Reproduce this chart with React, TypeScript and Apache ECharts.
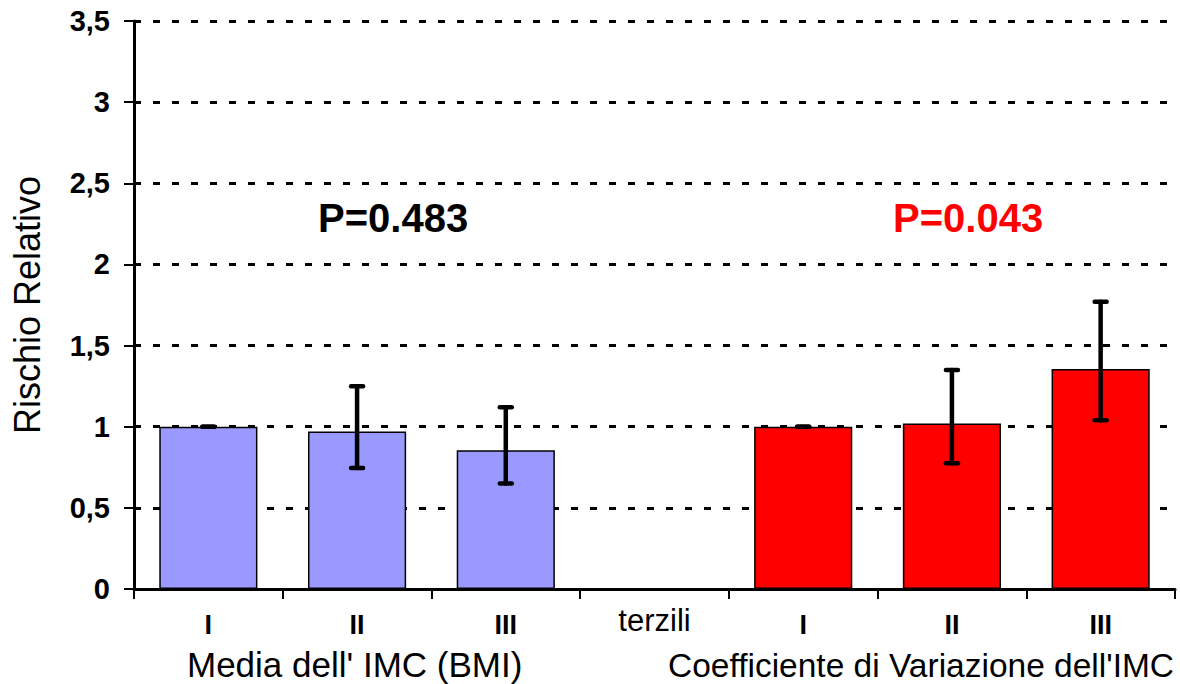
import React, { useEffect, useRef } from "react";
import * as echarts from "echarts";

const categories = ["I", "II", "III", "terzili", "I", "II", "III"];
const rrValues: (number | null)[] = [1.0, 0.97, 0.855, null, 1.0, 1.02, 1.355];
const ciLow: (number | null)[] = [1.0, 0.745, 0.65, null, 1.0, 0.775, 1.04];
const ciHigh: (number | null)[] = [1.0, 1.25, 1.12, null, 1.0, 1.35, 1.77];
const barColors = ["#9999FF", "#9999FF", "#9999FF", "#FFFFFF", "#FF0000", "#FF0000", "#FF0000"];
const yTicks = [0, 0.5, 1, 1.5, 2, 2.5, 3, 3.5];
const groupTitles = ["Media dell' IMC (BMI)", "Coefficiente di Variazione dell'IMC"];
const pValues = ["P=0.483", "P=0.043"];
const pColors = ["#000000", "#FF0000"];

const FONT = "Arial, 'Liberation Sans', Helvetica, sans-serif";

export default function App() {
  const ref = useRef<HTMLDivElement>(null);
  useEffect(() => {
    if (!ref.current) return;
    const chart = echarts.init(ref.current, undefined, { renderer: "svg" });
    const errData = categories
      .map((_, i) => (ciLow[i] == null ? null : [i, ciLow[i], ciHigh[i]]))
      .filter((d) => d !== null);
    chart.setOption({
      animation: false,
      backgroundColor: "#FFFFFF",
      grid: { left: 134, right: 5, top: 21, bottom: 95, containLabel: false },
      xAxis: {
        type: "category",
        data: categories,
        axisLine: { lineStyle: { color: "#000", width: 3 } },
        axisTick: { show: true, length: 10, alignWithLabel: false, lineStyle: { color: "#000", width: 2 } },
        axisLabel: {
          margin: 16,
          interval: 0,
          fontFamily: FONT,
          color: "#000",
          formatter: (v: string) => (v === "terzili" ? "{t|" + v + "}" : "{r|" + v + "}"),
          rich: {
            r: { fontSize: 27, lineHeight: 22, fontWeight: "bold", fontFamily: FONT, color: "#000", padding: [18, 0, 0, 0] },
            t: { fontSize: 31, lineHeight: 31, fontWeight: "normal", fontFamily: FONT, color: "#000" },
          },
        },
      },
      yAxis: {
        type: "value",
        min: 0,
        max: yTicks[yTicks.length - 1],
        interval: 0.5,
        name: "Rischio Relativo",
        nameLocation: "middle",
        nameRotate: 90,
        nameGap: 89,
        nameTextStyle: { fontSize: 36, fontFamily: FONT, color: "#000" },
        axisLine: { show: true, lineStyle: { color: "#000", width: 3 } },
        axisTick: { show: true, length: 10, lineStyle: { color: "#000", width: 2 } },
        axisLabel: {
          margin: 24,
          fontSize: 29,
          fontWeight: "bold",
          fontFamily: FONT,
          color: "#000",
          formatter: (v: number) => String(v).replace(".", ","),
        },
        splitLine: { show: true, lineStyle: { color: "#000", width: 3, type: [7, 12] } },
      },
      series: [
        {
          type: "bar",
          barWidth: "66%",
          data: rrValues.map((v, i) =>
            v == null ? "-" : { value: v, itemStyle: { color: barColors[i], borderColor: "#000", borderWidth: 1.5 } }
          ),
          z: 2,
        },
        {
          type: "custom",
          z: 3,
          data: errData,
          renderItem: (params: any, api: any) => {
            const x = api.value(0);
            const lo = api.coord([x, api.value(1)]);
            const hi = api.coord([x, api.value(2)]);
            const cap = 6;
            const style = { stroke: "#000", lineWidth: 4.5, lineCap: "round" };
            return {
              type: "group",
              children: [
                { type: "line", shape: { x1: lo[0], y1: lo[1], x2: hi[0], y2: hi[1] }, style },
                { type: "line", shape: { x1: lo[0] - cap, y1: lo[1], x2: lo[0] + cap, y2: lo[1] }, style },
                { type: "line", shape: { x1: hi[0] - cap, y1: hi[1], x2: hi[0] + cap, y2: hi[1] }, style },
              ],
            };
          },
        },
      ],
      graphic: [
        {
          type: "text",
          left: 318,
          top: 198,
          style: { text: pValues[0], fill: pColors[0], font: "bold 40px " + FONT },
        },
        {
          type: "text",
          left: 318 + 575,
          top: 198,
          style: { text: pValues[1], fill: pColors[1], font: "bold 40px " + FONT },
        },
        {
          type: "text",
          left: 187,
          top: 647,
          style: { text: groupTitles[0], fill: "#000", font: "35px " + FONT },
        },
        {
          type: "text",
          left: 668,
          top: 648,
          style: { text: groupTitles[1], fill: "#000", font: "33.5px " + FONT },
        },
      ],
    });
    return () => chart.dispose();
  }, []);
  return (
    <div
      ref={ref}
      style={{ position: "fixed", left: 0, top: 0, width: 1180, height: 684, background: "#fff" }}
    />
  );
}
